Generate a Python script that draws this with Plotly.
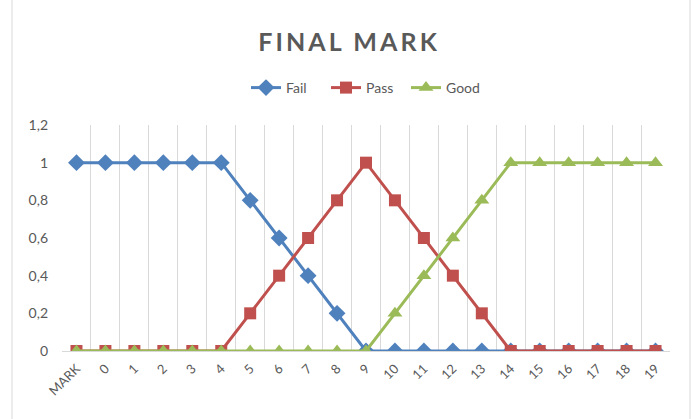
import plotly.graph_objects as go

categories = ["MARK"] + [str(i) for i in range(20)]
fail = [1, 1, 1, 1, 1, 1, 0.8, 0.6, 0.4, 0.2, 0, 0, 0, 0, 0, 0, 0, 0, 0, 0, 0]
pass_ = [0, 0, 0, 0, 0, 0, 0.2, 0.4, 0.6, 0.8, 1, 0.8, 0.6, 0.4, 0.2, 0, 0, 0, 0, 0, 0]
good = [0, 0, 0, 0, 0, 0, 0, 0, 0, 0, 0, 0.2, 0.4, 0.6, 0.8, 1, 1, 1, 1, 1, 1]
y_ticks = [0, 0.2, 0.4, 0.6, 0.8, 1, 1.2]

FONT = "Lato"
GRAY = "#595959"
L, R, T, B = 62, 25, 125, 68
PW, PH = 695 - L - R, 419 - T - B

fig = go.Figure()
fig.add_trace(go.Scatter(x=categories, y=fail, name="Fail", mode="lines+markers",
                         line=dict(color="#4F81BD", width=3),
                         marker=dict(symbol="diamond", size=13, color="#4F81BD")))
fig.add_trace(go.Scatter(x=categories, y=pass_, name="Pass", mode="lines+markers",
                         line=dict(color="#C0504D", width=3),
                         marker=dict(symbol="square", size=12, color="#C0504D")))
fig.add_trace(go.Scatter(x=categories, y=good, name="Good", mode="lines+markers",
                         line=dict(color="#9BBB59", width=3),
                         marker=dict(symbol="triangle-up", size=13, color="#9BBB59")))

title_text = "\u2009".join("FINAL") + "  " + "\u2009".join("MARK")

fig.update_layout(
    width=695, height=419,
    paper_bgcolor="white", plot_bgcolor="white",
    separators=", ",
    font=dict(family=FONT, color=GRAY, size=13),
    margin=dict(l=L, r=R, t=T, b=B, autoexpand=False),
    title=dict(text="<b>" + title_text + "</b>",
               x=0.5, xanchor="center", y=1 - 42 / 419, yanchor="middle",
               font=dict(family=FONT, size=25, color=GRAY)),
    legend=dict(orientation="h", x=0.5, xanchor="center", y=1 + (T - 88) / PH, yanchor="middle",
                font=dict(family=FONT, size=14, color=GRAY), entrywidth=35),
    xaxis=dict(type="category", range=[-0.5, 20.5], tickson="boundaries",
               showgrid=True, gridcolor="#D9D9D9", gridwidth=1,
               showline=True, linecolor="#D9D9D9", linewidth=1,
               ticks="", tickangle=-45, tickfont=dict(size=13, color=GRAY),
               ticklabelstandoff=4,
               zeroline=False, automargin=False),
    yaxis=dict(range=[0, 1.2], tickvals=y_ticks, showgrid=False, showline=False,
               zeroline=False, ticks="", tickfont=dict(size=14, color=GRAY),
               ticklabelstandoff=13, automargin=False),
    shapes=[
        dict(type="line", xref="paper", yref="paper", x0=-(L - 12) / PW, x1=-(L - 12) / PW,
             y0=-B / PH, y1=1 + T / PH, line=dict(color="#D9D9D9", width=1)),
        dict(type="line", xref="paper", yref="paper", x0=1 + (R - 5) / PW, x1=1 + (R - 5) / PW,
             y0=-B / PH, y1=1 + T / PH, line=dict(color="#D9D9D9", width=1)),
    ],
)

fig.write_html("out.html", config={"displayModeBar": False},
               post_script="document.body.style.margin='0';")
